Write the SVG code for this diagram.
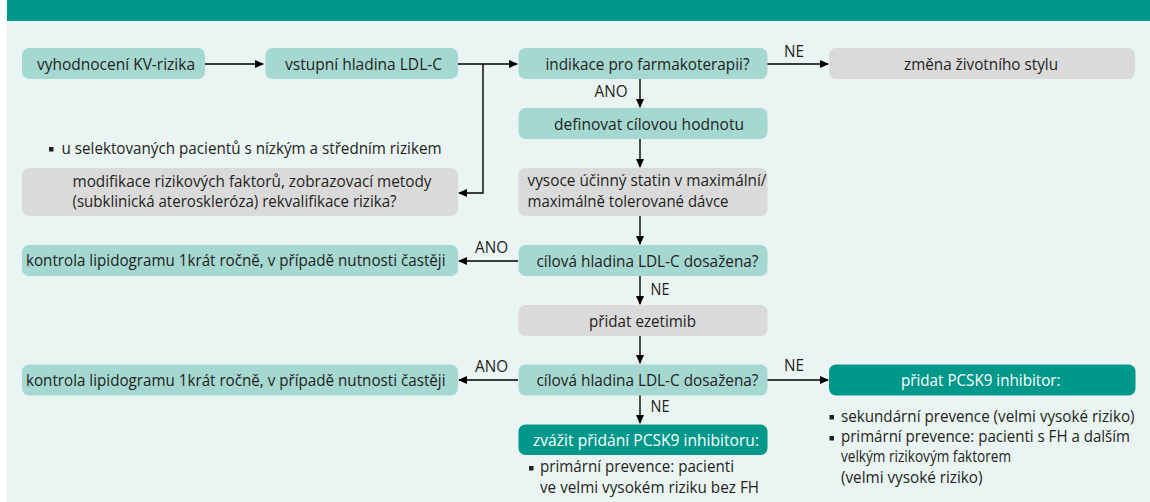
<svg xmlns="http://www.w3.org/2000/svg" width="1150" height="502" viewBox="0 0 1150 502">
<style>
.t{font-family:"Open Sans","Liberation Sans",sans-serif;font-size:16.5px;fill:#231f20}
.w{fill:#ffffff}
.lt{fill:#a6d8d2}
.gr{fill:#dadada}
.dk{fill:#00988a}
.c{stroke:#000;stroke-width:1.4;fill:none}
.lbl{font-family:"Open Sans","Liberation Sans",sans-serif;font-size:16px;fill:#231f20}
.b{fill:#231f20}
</style>
<defs>
<marker id="ah" markerWidth="10" markerHeight="10" refX="8" refY="4" orient="auto" markerUnits="userSpaceOnUse">
<path d="M0,0 L9,4 L0,8 Z" fill="#000"/>
</marker>
</defs>
<rect x="0" y="0" width="1150" height="502" fill="#ffffff"/>
<rect x="7" y="21" width="1143" height="481" fill="#eaf4f2"/>
<rect x="7" y="0" width="1143" height="21" fill="#00988a"/>

<g id="connectors">
<path class="c" d="M205,64 H263" marker-end="url(#ah)"/>
<path class="c" d="M458,64 H517" marker-end="url(#ah)"/>
<path class="c" d="M483,64 V193 H459" marker-end="url(#ah)"/>
<path class="c" d="M767,64 H828" marker-end="url(#ah)"/>
<text class="lbl" x="784" y="57" textLength="20" lengthAdjust="spacingAndGlyphs">NE</text>
<path class="c" d="M640,79 V107" marker-end="url(#ah)"/>
<text class="lbl" x="594.5" y="97" textLength="33" lengthAdjust="spacingAndGlyphs">ANO</text>
<path class="c" d="M640,139 V167" marker-end="url(#ah)"/>
<path class="c" d="M640,216 V244" marker-end="url(#ah)"/>
<path class="c" d="M518,261 H459" marker-end="url(#ah)"/>
<text class="lbl" x="475" y="253" textLength="33" lengthAdjust="spacingAndGlyphs">ANO</text>
<path class="c" d="M640,276 V304" marker-end="url(#ah)"/>
<text class="lbl" x="650.5" y="295" textLength="19" lengthAdjust="spacingAndGlyphs">NE</text>
<path class="c" d="M640,336 V363" marker-end="url(#ah)"/>
<path class="c" d="M518,380 H459" marker-end="url(#ah)"/>
<text class="lbl" x="475" y="372" textLength="33" lengthAdjust="spacingAndGlyphs">ANO</text>
<path class="c" d="M767,380 H828" marker-end="url(#ah)"/>
<text class="lbl" x="784" y="371" textLength="20" lengthAdjust="spacingAndGlyphs">NE</text>
<path class="c" d="M640,395 V423" marker-end="url(#ah)"/>
<text class="lbl" x="650.5" y="412" textLength="19" lengthAdjust="spacingAndGlyphs">NE</text>
</g>

<g id="n1"><rect class="lt" x="22" y="48" width="183" height="31" rx="7"/><text class="t" x="37" y="69.5" textLength="158" lengthAdjust="spacingAndGlyphs">vyhodnocení KV-rizika</text></g>
<g id="n2"><rect class="lt" x="265.5" y="48" width="192.5" height="31" rx="7"/><text class="t" x="285" y="69.5" textLength="157" lengthAdjust="spacingAndGlyphs">vstupní hladina LDL-C</text></g>
<g id="n3"><rect class="lt" x="518.5" y="48" width="249" height="31" rx="7"/><text class="t" x="545.5" y="69.5" textLength="204" lengthAdjust="spacingAndGlyphs">indikace pro farmakoterapii?</text></g>
<g id="n4"><rect class="gr" x="829" y="48" width="306" height="31" rx="7"/><text class="t" x="904" y="69.5" textLength="154" lengthAdjust="spacingAndGlyphs">změna životního stylu</text></g>
<g id="n5"><rect class="lt" x="518.5" y="108" width="249" height="31" rx="7"/><text class="t" x="554" y="130" textLength="190" lengthAdjust="spacingAndGlyphs">definovat cílovou hodnotu</text></g>
<g id="n6"><rect class="gr" x="518.5" y="168" width="249" height="48" rx="7"/><text class="t" x="527.5" y="186" textLength="239" lengthAdjust="spacingAndGlyphs">vysoce účinný statin v maximální/</text><text class="t" x="527.5" y="207" textLength="201" lengthAdjust="spacingAndGlyphs">maximálně tolerované dávce</text></g>
<g id="n7"><rect class="b" x="49" y="147" width="4.5" height="4.5"/><text class="t" x="61.5" y="153.5" textLength="380" lengthAdjust="spacingAndGlyphs">u selektovaných pacientů s nízkým a středním rizikem</text></g>
<g id="n8"><rect class="gr" x="22" y="168" width="436" height="48" rx="7"/><text class="t" x="72.5" y="186.5" textLength="359" lengthAdjust="spacingAndGlyphs">modifikace rizikových faktorů, zobrazovací metody</text><text class="t" x="72.5" y="207" textLength="324" lengthAdjust="spacingAndGlyphs">(subklinická ateroskleróza) rekvalifikace rizika?</text></g>
<g id="n9"><rect class="lt" x="518.5" y="245" width="249" height="31" rx="7"/><text class="t" x="536.5" y="266.5" textLength="222" lengthAdjust="spacingAndGlyphs">cílová hladina LDL-C dosažena?</text></g>
<g id="n10"><rect class="lt" x="22" y="245" width="436" height="31" rx="7"/><text class="t" x="26" y="266" textLength="419.5" lengthAdjust="spacingAndGlyphs">kontrola lipidogramu 1krát ročně, v případě nutnosti častěji</text></g>
<g id="n11"><rect class="gr" x="518.5" y="305" width="249" height="31" rx="7"/><text class="t" x="589" y="326.5" textLength="107" lengthAdjust="spacingAndGlyphs">přidat ezetimib</text></g>
<g id="n12"><rect class="lt" x="518.5" y="364.5" width="249" height="31" rx="7"/><text class="t" x="536.5" y="385.5" textLength="222" lengthAdjust="spacingAndGlyphs">cílová hladina LDL-C dosažena?</text></g>
<g id="n13"><rect class="lt" x="22" y="364.5" width="436" height="31" rx="7"/><text class="t" x="26" y="385.5" textLength="419.5" lengthAdjust="spacingAndGlyphs">kontrola lipidogramu 1krát ročně, v případě nutnosti častěji</text></g>
<g id="n14"><rect class="dk" x="829" y="364.5" width="306.5" height="31" rx="7"/><text class="t w" x="901" y="385.5" textLength="159.5" lengthAdjust="spacingAndGlyphs">přidat PCSK9 inhibitor:</text>
<rect class="b" x="829.5" y="415" width="4.5" height="4.5"/><text class="t" x="841" y="421.5" textLength="293.5" lengthAdjust="spacingAndGlyphs">sekundární prevence (velmi vysoké riziko)</text>
<rect class="b" x="829.5" y="436" width="4.5" height="4.5"/><text class="t" x="841" y="442" textLength="289" lengthAdjust="spacingAndGlyphs">primární prevence: pacienti s FH a dalším</text>
<text class="t" x="841" y="462" textLength="170" lengthAdjust="spacingAndGlyphs">velkým rizikovým faktorem</text>
<text class="t" x="841" y="483" textLength="141.5" lengthAdjust="spacingAndGlyphs">(velmi vysoké riziko)</text></g>
<g id="n15"><rect class="dk" x="518.5" y="424.5" width="249" height="30.5" rx="7"/><text class="t w" x="533" y="445.5" textLength="226" lengthAdjust="spacingAndGlyphs">zvážit přidání PCSK9 inhibitoru:</text>
<rect class="b" x="529" y="466" width="4.5" height="4.5"/><text class="t" x="540" y="472" textLength="194" lengthAdjust="spacingAndGlyphs">primární prevence: pacienti</text>
<text class="t" x="540" y="493" textLength="219" lengthAdjust="spacingAndGlyphs">ve velmi vysokém riziku bez FH</text></g>
</svg>
